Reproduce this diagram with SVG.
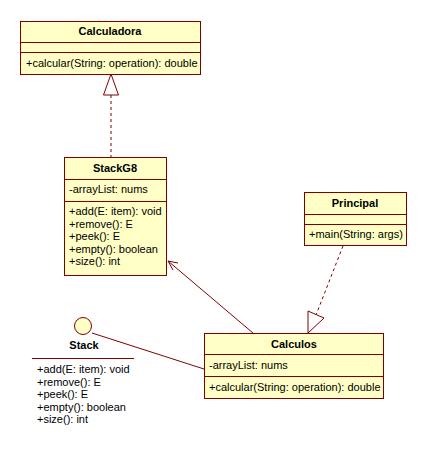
<svg xmlns="http://www.w3.org/2000/svg" width="427" height="453" viewBox="0 0 427 453">
<style>
.box{fill:#ffffc6;stroke:#800000;stroke-width:1}
.ln{stroke:#800000;stroke-width:1;fill:none}
.dash{stroke:#800000;stroke-width:1;fill:none;stroke-dasharray:3,3}
.t{font-family:"Liberation Sans",Arial,sans-serif;font-size:11px;fill:#000}
.b{font-family:"Liberation Sans",Arial,sans-serif;font-size:11px;font-weight:bold;fill:#000;text-anchor:middle}
</style>
<rect width="427" height="453" fill="#fff"/>
<g id="connectors">
<line class="dash" x1="111" y1="95" x2="111" y2="157"/>
<polygon points="111,74 103.5,95 118.5,95" fill="#fff" stroke="#800000"/>
<line class="ln" x1="253" y1="333" x2="168" y2="261"/>
<polyline class="ln" points="178,263 168,261 173,270"/>
<line class="dash" x1="343" y1="246" x2="316" y2="315"/>
<polygon points="308,333 308,311 324,318" fill="#fff" stroke="#800000"/>
<line class="ln" x1="92" y1="333" x2="204" y2="369"/>
</g>
<g id="Calculadora">
<rect class="box" x="20.5" y="21.5" width="180" height="53"/>
<line class="ln" x1="20.5" y1="42.5" x2="200.5" y2="42.5"/>
<line class="ln" x1="20.5" y1="52.5" x2="200.5" y2="52.5"/>
<text class="b" x="110" y="35">Calculadora</text>
<text class="t" x="26" y="67">+calcular(String: operation): double</text>
</g>
<g id="StackG8">
<rect class="box" x="64.5" y="157.5" width="102" height="118"/>
<line class="ln" x1="64.5" y1="179.5" x2="166.5" y2="179.5"/>
<line class="ln" x1="64.5" y1="201.5" x2="166.5" y2="201.5"/>
<text class="b" x="115" y="172">StackG8</text>
<text class="t" x="69" y="193">-arrayList: nums</text>
<text class="t" x="69" y="215">+add(E: item): void</text>
<text class="t" x="69" y="227.5">+remove(): E</text>
<text class="t" x="69" y="240">+peek(): E</text>
<text class="t" x="69" y="252.5">+empty(): boolean</text>
<text class="t" x="69" y="265">+size(): int</text>
</g>
<g id="Principal">
<rect class="box" x="304.5" y="192.5" width="102" height="53"/>
<line class="ln" x1="304.5" y1="214.5" x2="406.5" y2="214.5"/>
<line class="ln" x1="304.5" y1="224.5" x2="406.5" y2="224.5"/>
<text class="b" x="355" y="207">Principal</text>
<text class="t" x="309" y="238">+main(String: args)</text>
</g>
<g id="Calculos">
<rect class="box" x="204.5" y="333.5" width="179" height="65"/>
<line class="ln" x1="204.5" y1="354.5" x2="383.5" y2="354.5"/>
<line class="ln" x1="204.5" y1="376.5" x2="383.5" y2="376.5"/>
<text class="b" x="294" y="348">Calculos</text>
<text class="t" x="209" y="369">-arrayList: nums</text>
<text class="t" x="209" y="391">+calcular(String: operation): double</text>
</g>
<g id="Stack">
<circle cx="83" cy="326" r="8.5" fill="#ffffc6" stroke="#800000"/>
<text class="b" x="84" y="349">Stack</text>
<line class="ln" x1="32" y1="358.5" x2="134" y2="358.5"/>
<text class="t" x="37" y="373">+add(E: item): void</text>
<text class="t" x="37" y="385.5">+remove(): E</text>
<text class="t" x="37" y="398">+peek(): E</text>
<text class="t" x="37" y="410.5">+empty(): boolean</text>
<text class="t" x="37" y="423">+size(): int</text>
</g>
</svg>
